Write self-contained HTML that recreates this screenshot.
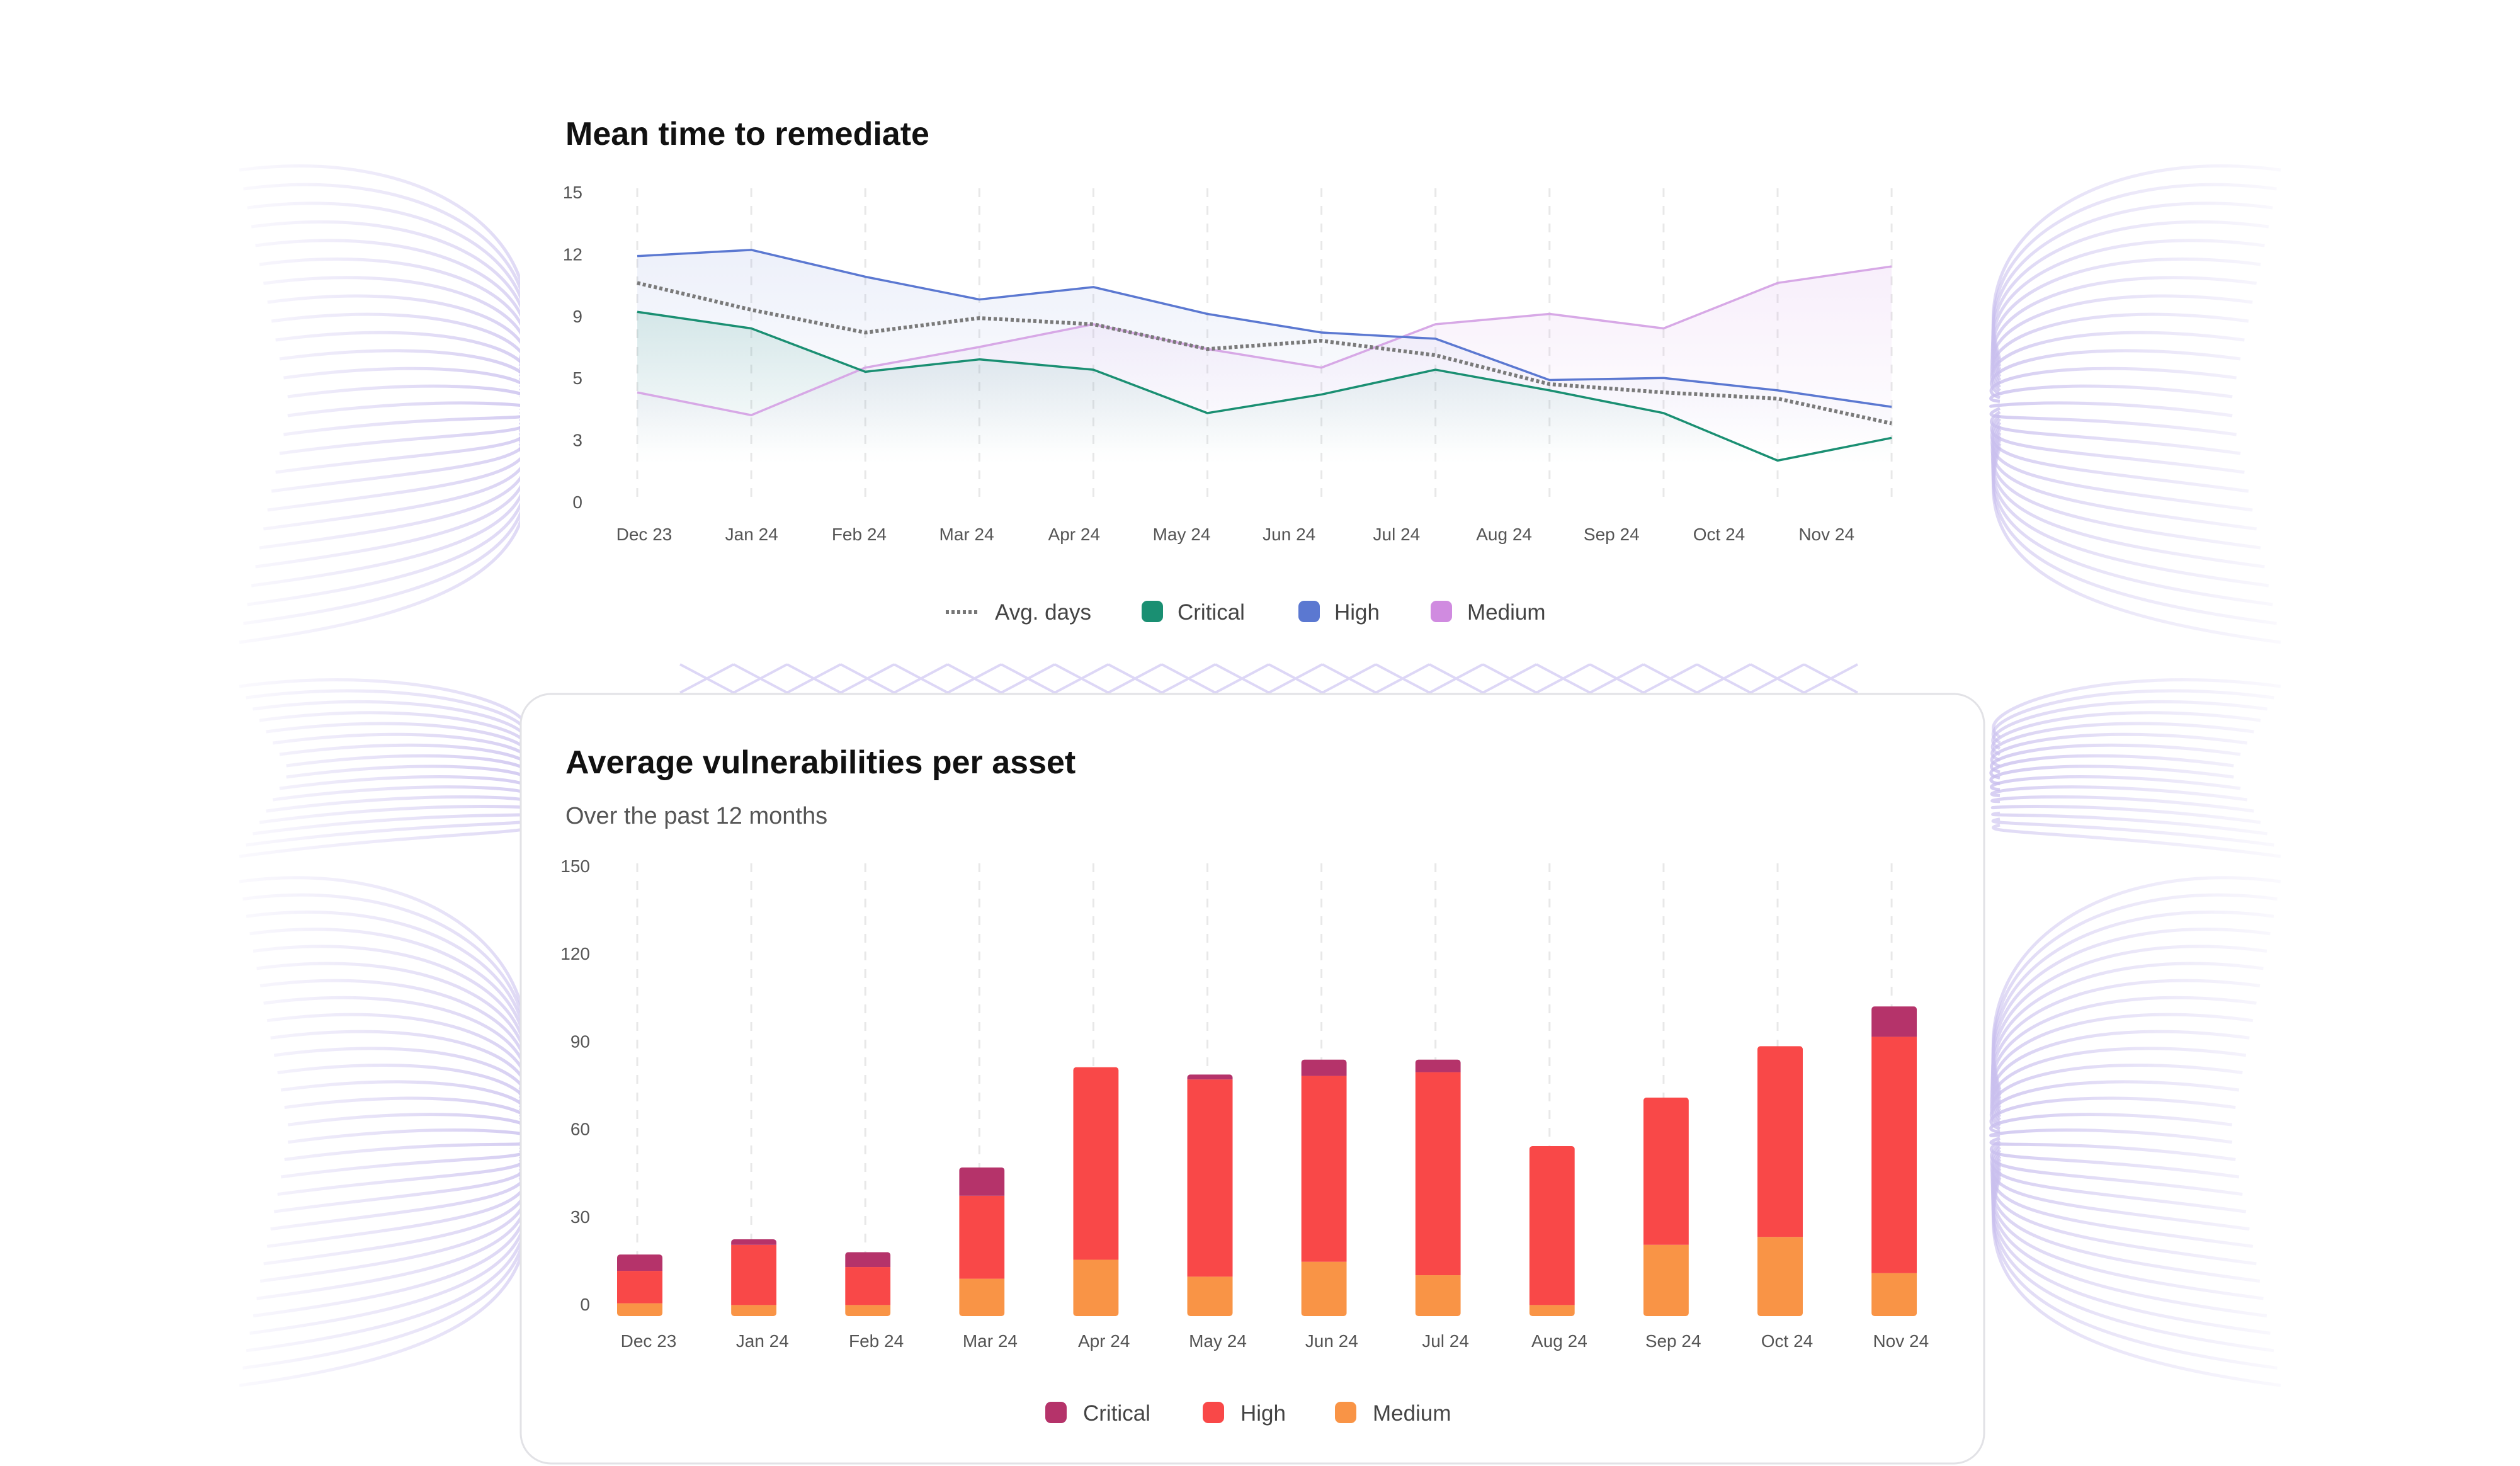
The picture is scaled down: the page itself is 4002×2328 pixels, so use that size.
<!DOCTYPE html>
<html><head><meta charset="utf-8">
<style>
html,body{margin:0;padding:0;background:#fff;}
body{width:4002px;height:2328px;position:relative;overflow:hidden;font-family:"Liberation Sans",sans-serif;}
svg{position:absolute;left:0;top:0;}
</style></head>
<body>
<svg id="deco" width="4002" height="2328">
  <defs>
    <linearGradient id="fadeL" gradientUnits="userSpaceOnUse" x1="300" y1="0" x2="826" y2="0"><stop offset="0" stop-color="#c9bfee" stop-opacity="0"/><stop offset="1" stop-color="#c9bfee" stop-opacity="1"/></linearGradient>
  </defs>
</svg>
<svg id="chart" width="4002" height="2328">
  <defs>
    <linearGradient id="gH" x1="0" y1="0" x2="0" y2="1"><stop offset="0" stop-color="#5b78d1" stop-opacity="0.11"/><stop offset="0.8" stop-color="#5b78d1" stop-opacity="0"/></linearGradient>
    <linearGradient id="gC" x1="0" y1="0" x2="0" y2="1"><stop offset="0" stop-color="#1a8f72" stop-opacity="0.14"/><stop offset="0.8" stop-color="#1a8f72" stop-opacity="0"/></linearGradient>
    <linearGradient id="gM" x1="0" y1="0" x2="0" y2="1"><stop offset="0" stop-color="#c88ae0" stop-opacity="0.14"/><stop offset="0.8" stop-color="#c88ae0" stop-opacity="0"/></linearGradient>
  </defs>
  <rect x="826" y="0" width="2326" height="1050" fill="#fff"/>
  <text x="898" y="230" font-size="52" font-weight="bold" fill="#111">Mean time to remediate</text>
  <g id="topChart"></g>
  <g id="topLegend">
    <line x1="1502" y1="972" x2="1553" y2="972" stroke="#777" stroke-width="6" stroke-dasharray="5,4"/>
    <text x="1580" y="984" font-size="35" fill="#444">Avg. days</text>
    <rect x="1813" y="954" width="34" height="34" rx="9" fill="#1a8f72"/>
    <text x="1870" y="984" font-size="35" fill="#444">Critical</text>
    <rect x="2062" y="954" width="34" height="34" rx="9" fill="#5b78d1"/>
    <text x="2119" y="984" font-size="35" fill="#444">High</text>
    <rect x="2272" y="954" width="34" height="34" rx="9" fill="#d08be0"/>
    <text x="2330" y="984" font-size="35" fill="#444">Medium</text>
  </g>
  <rect x="827" y="1102" width="2324" height="1222" rx="48" fill="#fff" stroke="#e2e2e6" stroke-width="3"/>
  <text x="898" y="1228" font-size="52" font-weight="bold" fill="#111">Average vulnerabilities per asset</text>
  <text x="898" y="1308" font-size="38" fill="#555">Over the past 12 months</text>
  <g id="bottomChart"></g>
  <g id="botLegend">
    <rect x="1660" y="2226" width="34" height="34" rx="9" fill="#b5336a"/>
    <text x="1720" y="2256" font-size="35" fill="#444">Critical</text>
    <rect x="1910" y="2226" width="34" height="34" rx="9" fill="#f94848"/>
    <text x="1970" y="2256" font-size="35" fill="#444">High</text>
    <rect x="2120" y="2226" width="34" height="34" rx="9" fill="#f99446"/>
    <text x="2180" y="2256" font-size="35" fill="#444">Medium</text>
  </g>
</svg>
<script>
const months = ["Dec 23","Jan 24","Feb 24","Mar 24","Apr 24","May 24","Jun 24","Jul 24","Aug 24","Sep 24","Oct 24","Nov 24"];
const topTicks = [0,3,6,9,12,15];
const topTickLabels = ["0","3","5","9","12","15"];
const highDays = [11.9,12.2,10.9,9.8,10.4,9.1,8.2,7.9,5.9,6.0,5.4,4.6];
const criticalDays = [9.2,8.4,6.3,6.9,6.4,4.3,5.2,6.4,5.4,4.3,2.0,3.1];
const mediumDays = [5.3,4.2,6.5,7.5,8.6,7.4,6.5,8.6,9.1,8.4,10.6,11.4];
const avgDays = [10.6,9.3,8.2,8.9,8.6,7.4,7.8,7.1,5.7,5.3,5.0,3.8];

const barTicks = [0,30,60,90,120,150];
const mediumVuln = [4.4,3.8,3.8,12.8,19.3,13.5,18.6,14.0,3.8,24.4,27.1,14.7];
const highVuln = [11.1,20.6,13.0,28.4,65.9,67.5,63.6,69.5,54.4,50.4,65.3,80.9];
const criticalVuln = [5.6,1.9,5.1,9.7,0,1.7,5.6,4.3,0,0,0,10.4];

const NS="http://www.w3.org/2000/svg";
function mk(tag,attrs,parent){const e=document.createElementNS(NS,tag);for(const k in attrs)e.setAttribute(k,attrs[k]);parent.appendChild(e);return e;}

const gx = i => 1012 + i*181.1;
const ty = v => 797 - v*(492/15);
const topG = document.getElementById('topChart');
months.forEach((m,i)=>{
  const l=mk('line',{x1:gx(i),y1:299,x2:gx(i),y2:797,stroke:'#e8e8e8','stroke-width':3,'stroke-dasharray':'14,14'},topG);
  
  
  const t=mk('text',{x:1023+i*170.7,y:858,'font-size':28,fill:'#555','text-anchor':'middle'},topG);
  t.textContent=m;
  
  
});
topTicks.forEach((v,i)=>{
  const t=mk('text',{x:925,y:ty(v)+10,'font-size':28,fill:'#555','text-anchor':'end'},topG);
  t.textContent=topTickLabels[i];
  
  
});
function pts(arr){return arr.map((v,i)=>gx(i)+','+ty(v)).join(' ');}
function drawArea(arr,fill,name){
  const d='M'+gx(0)+','+ty(0)+' L'+arr.map((v,i)=>gx(i)+','+ty(v)).join(' L')+' L'+gx(arr.length-1)+','+ty(0)+'Z';
  const p=mk('path',{d:d,fill:fill},topG);
  
  
}
drawArea(highDays,'url(#gH)','high-area');
drawArea(mediumDays,'url(#gM)','medium-area');
drawArea(criticalDays,'url(#gC)','critical-area');
function drawLine(arr,color,w,name,dash){
  const a={points:pts(arr),fill:'none',stroke:color,'stroke-width':w,'stroke-linejoin':'round'};
  if(dash)a['stroke-dasharray']=dash;
  const p=mk('polyline',a,topG);
  
  
}
drawLine(mediumDays,'#d7a8e6',3.5,'medium-line');
drawLine(highDays,'#5b78d1',3.5,'high-line');
drawLine(criticalDays,'#1a8f72',3.5,'critical-line');
drawLine(avgDays,'#7a7a7a',6,'avg-days-line','5,4');

const by = v => 2090 - v*4.64;
const botG = document.getElementById('bottomChart');
months.forEach((m,i)=>{
  const l=mk('line',{x1:gx(i),y1:1371,x2:gx(i),y2:2090,stroke:'#e8e8e8','stroke-width':3,'stroke-dasharray':'14,14'},botG);
  
  
  const t=mk('text',{x:1030+i*180.8,y:2139,'font-size':28,fill:'#555','text-anchor':'middle'},botG);
  t.textContent=m;
  
  
});
barTicks.forEach(v=>{
  const t=mk('text',{x:937,y:by(v)-9,'font-size':28,fill:'#555','text-anchor':'end'},botG);
  t.textContent=String(v);
  
  
});
months.forEach((m,i)=>{
  const x=gx(i)+4-36;
  const segs=[[mediumVuln[i],'#f99446','bar-medium'],[highVuln[i],'#f94848','bar-high'],[criticalVuln[i],'#b5336a','bar-critical']];
  let base=0;
  const clip='c'+i;
  const total=mediumVuln[i]+highVuln[i]+criticalVuln[i];
  const cp=mk('clipPath',{id:clip},botG);
  mk('rect',{x:x,y:by(total),width:72,height:by(0)-by(total),rx:5},cp);
  const g=mk('g',{'clip-path':'url(#'+clip+')'},botG);
  segs.forEach(s=>{
    if(s[0]<=0)return;
    const r=mk('rect',{x:x,y:by(base+s[0]),width:72,height:by(base)-by(base+s[0]),fill:s[1]},g);
    
    
    base+=s[0];
  });
});

const deco=document.getElementById('deco');
function curves(y0,y1,n,flip,loopY){
  for(let k=0;k<n;k++){
    const t=k/(n-1);
    const ys=y0+(y1-y0)*t;
    const xs=380+(1-Math.abs(t-0.5)*2)*80;
    const ye=loopY+(t-0.5)*140;
    const d='M'+xs+','+ys+' C'+(xs+300)+','+(ys-40)+' '+(826+60)+','+(ys+(loopY-ys)*0.3)+' '+826+','+ye;
    const op=0.35+0.45*(1-Math.abs(t-0.5));
    const p=mk('path',{d:d,fill:'none',stroke:'url(#fadeL)','stroke-width':5,opacity:op},deco);
    if(flip)p.setAttribute('transform','translate(4002,0) scale(-1,1)');
    
    
  }
}
[false,true].forEach(f=>{
  curves(270,1020,26,f,640);
  curves(1090,1360,16,f,1240);
  curves(1400,2200,30,f,1800);
});
for(let k=0;k<22;k++){
  const x=1080+k*85;
  const p=mk('path',{d:'M'+x+',1055 L'+(x+85)+',1100 M'+(x+85)+',1055 L'+x+',1100',stroke:'#cfc6f2','stroke-width':4,fill:'none',opacity:0.7},deco);
  
  
}
</script>
</body></html>
